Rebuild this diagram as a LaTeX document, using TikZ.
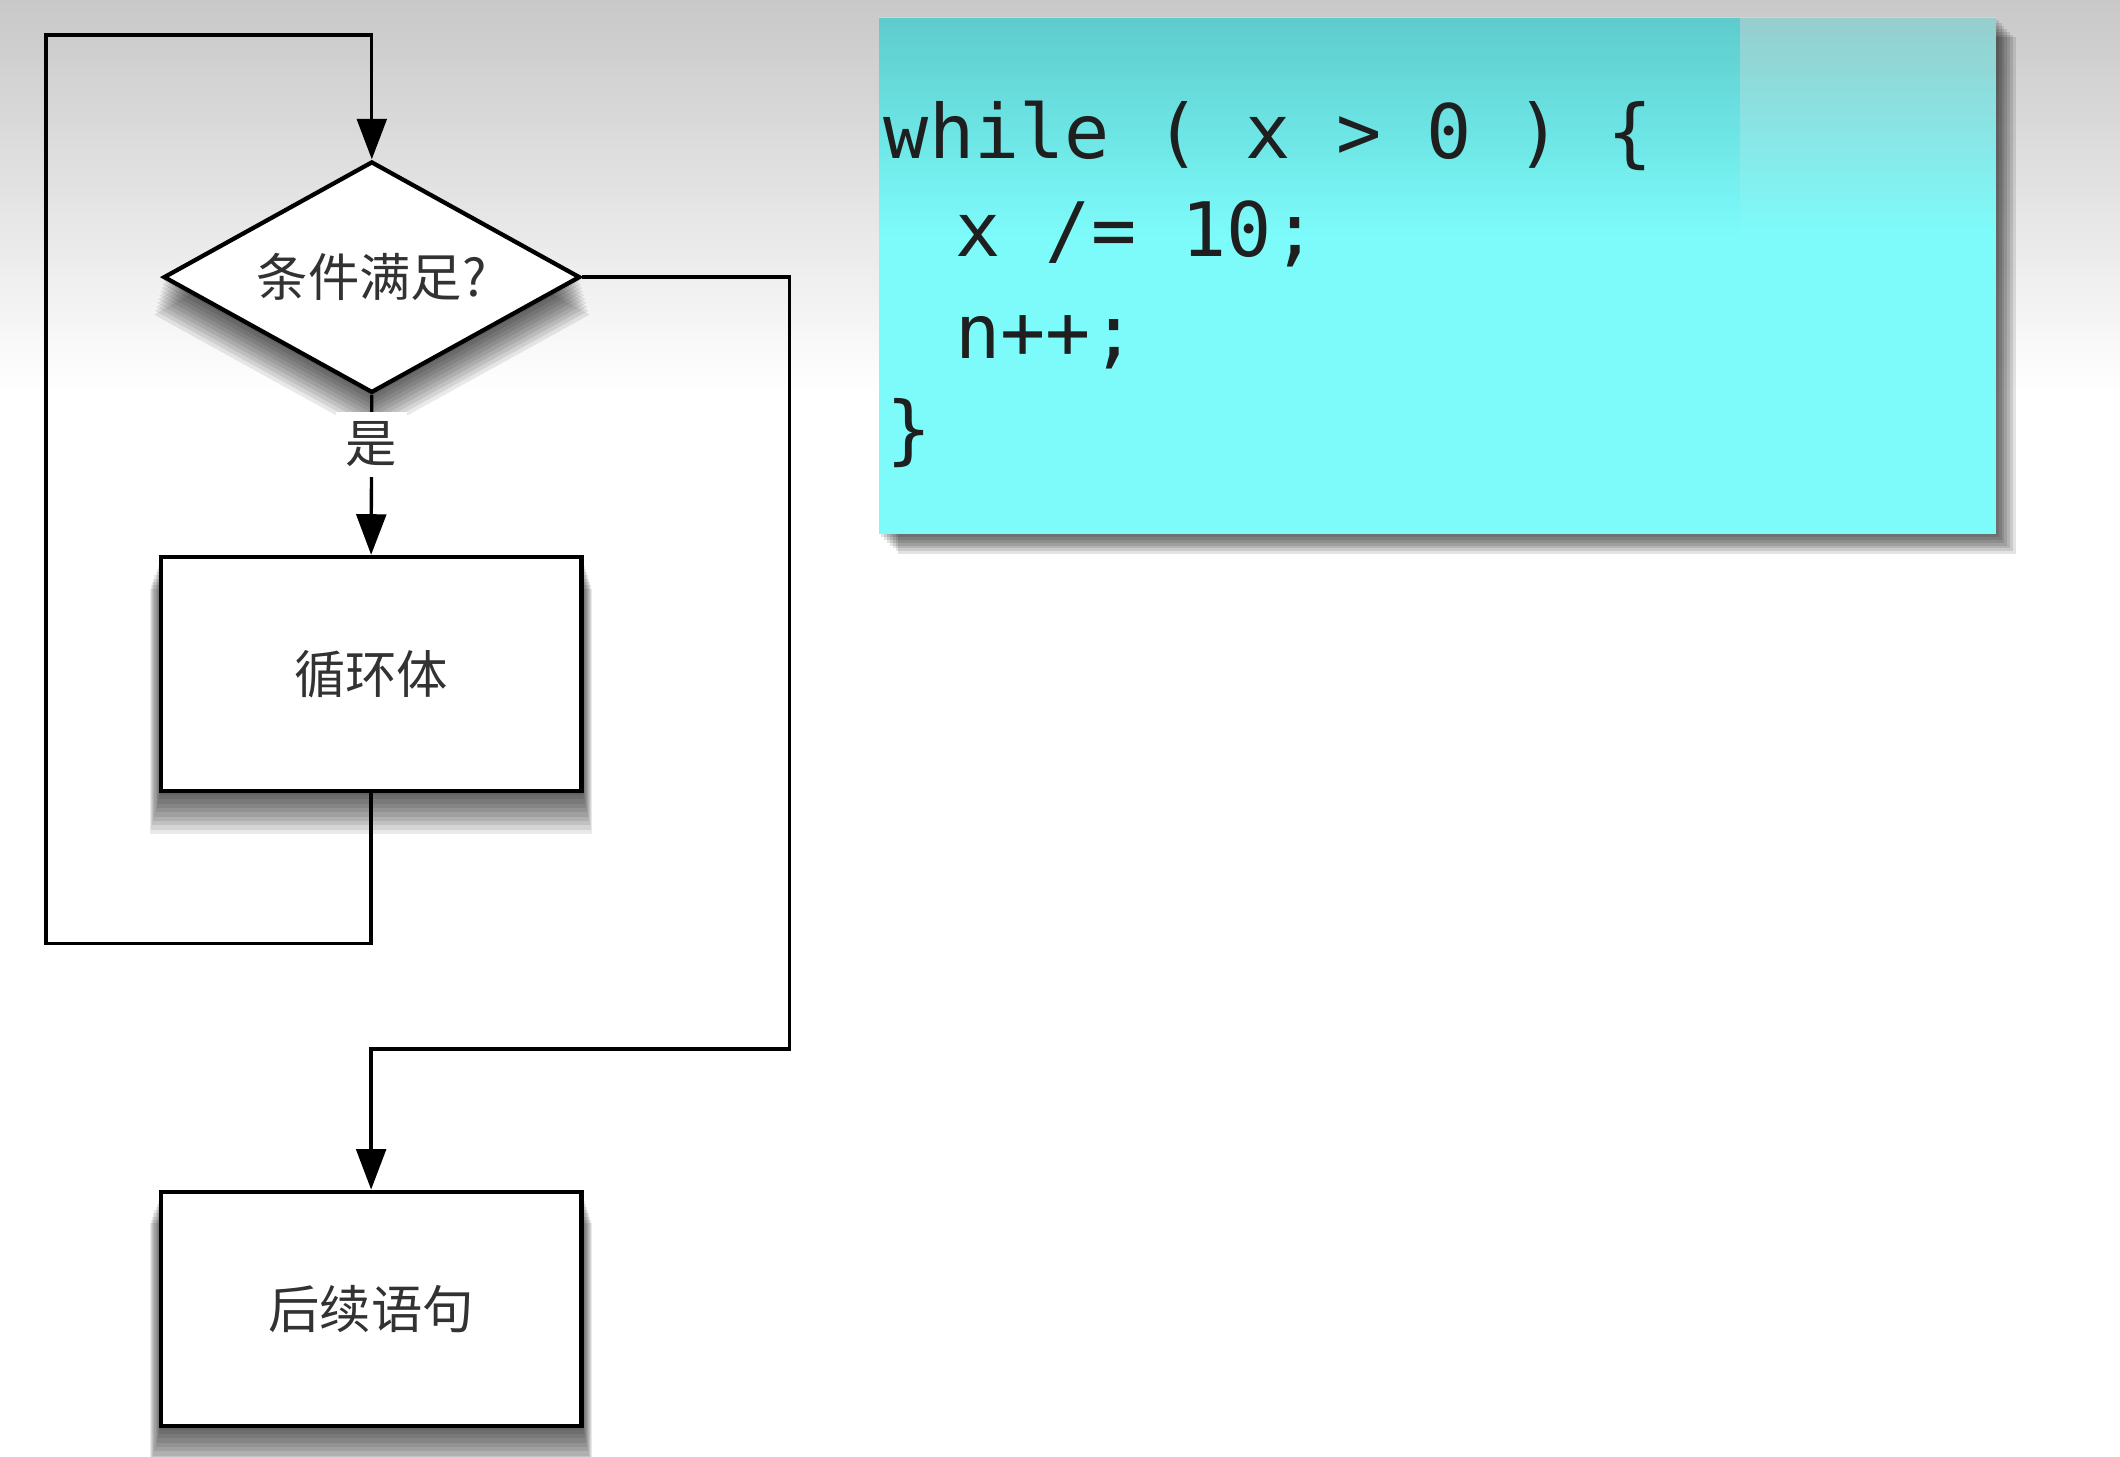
\documentclass[tikz,border=0pt]{standalone}
\usepackage{fontspec}
\usepackage{tikz}
\usetikzlibrary{shapes.geometric,arrows.meta,shadows}
\newfontfamily\cjkfont{Noto Sans CJK SC}
\newfontfamily\codefont{DejaVu Sans Mono}
\definecolor{bgtop}{RGB}{200,200,200}
\definecolor{hazetop}{RGB}{150,206,206}
\definecolor{codetop}{RGB}{94,204,204}
\definecolor{codebot}{RGB}{125,251,251}
\definecolor{labelgray}{RGB}{50,50,50}

\begin{document}
\begin{tikzpicture}[x=0.01cm,y=-0.01cm,
  shadowstep/.style={general shadow={fill=black, opacity=0.085, shadow yshift=-#1*0.75pt, shadow scale=1+#1*0.005}},
  softshadow/.style={shadowstep=1, shadowstep=2, shadowstep=3, shadowstep=4, shadowstep=5,
    shadowstep=6, shadowstep=7, shadowstep=8, shadowstep=9, shadowstep=10},
  codestep/.style={general shadow={fill=black, opacity=0.11, shadow xshift=#1*0.6pt, shadow yshift=-#1*0.6pt}},
  block/.style={draw=black, line width=0.9pt, fill=white, minimum width=3.11cm, minimum height=1.73cm,
    font=\cjkfont\fontsize{10.8}{13}\selectfont, text=labelgray, softshadow},
  decision/.style={diamond, aspect=1.8, draw=black, line width=0.9pt, fill=white, inner sep=0pt,
    minimum width=3.08cm, minimum height=1.71cm, font=\cjkfont\fontsize{10.8}{13}\selectfont, text=labelgray, softshadow},
  flow/.style={draw=black, line width=0.7pt},
  tip/.style={-{Triangle[length=3mm,width=2.2mm]}},
  lbl/.style={fill=white, inner sep=2pt, font=\cjkfont\fontsize{10.8}{13}\selectfont, text=labelgray},
  codebox/.style={rectangle, minimum width=8.26cm, minimum height=3.82cm, inner sep=0pt, fill=codebot,
    codestep=1, codestep=2, codestep=3, codestep=4, codestep=5, codestep=6, codestep=7},
  codeline/.style={anchor=base west, inner sep=0pt, font=\codefont\fontsize{15.8}{19}\selectfont, text=black!88}]

% background
\useasboundingbox (0,0) rectangle (1568,1077);
\fill[white] (0,0) rectangle (1568,1077);
\shade[top color=bgtop, bottom color=white] (0,0) rectangle (1568,290);

% flow chart
\node[decision] (cond) at (275,205) {条件满足?};
\node[block] (body) at (274.5,498.5) {循环体};
\node[block] (next) at (274.5,968) {后续语句};

\coordinate (backbot) at (34,698);
\coordinate (backtop) at (34,26);
\coordinate (skipturn) at (584,776);

\draw[flow,tip] (body.south) |- (backbot) -- (backtop) -| (cond.north);
\draw[flow,tip] (cond.south) -- node[lbl, pos=0.31] (yes) {是} (body.north);
\draw[flow,tip] (cond.east) -| (skipturn) -| (next.north);

% code
\node[codebox] (code) at (1063,204) {};
\foreach \i in {0,...,39}{
  \pgfmathsetmacro\p{2.5*\i}
  \fill[codebot!\p!codetop] (650,{13+4*\i}) rectangle (1287,{18+4*\i});
  \fill[codebot!\p!hazetop] (1287,{13+4*\i}) rectangle (1476,{18+4*\i});
}
\node[codeline] (c1) at (653,117) {while ( x > 0 ) \{};
\node[codeline] (c2) at (706,190) {x /= 10;};
\node[codeline] (c3) at (706,265) {n++;};
\node[codeline] (c4) at (655,337) {\}};
\end{tikzpicture}
\end{document}
